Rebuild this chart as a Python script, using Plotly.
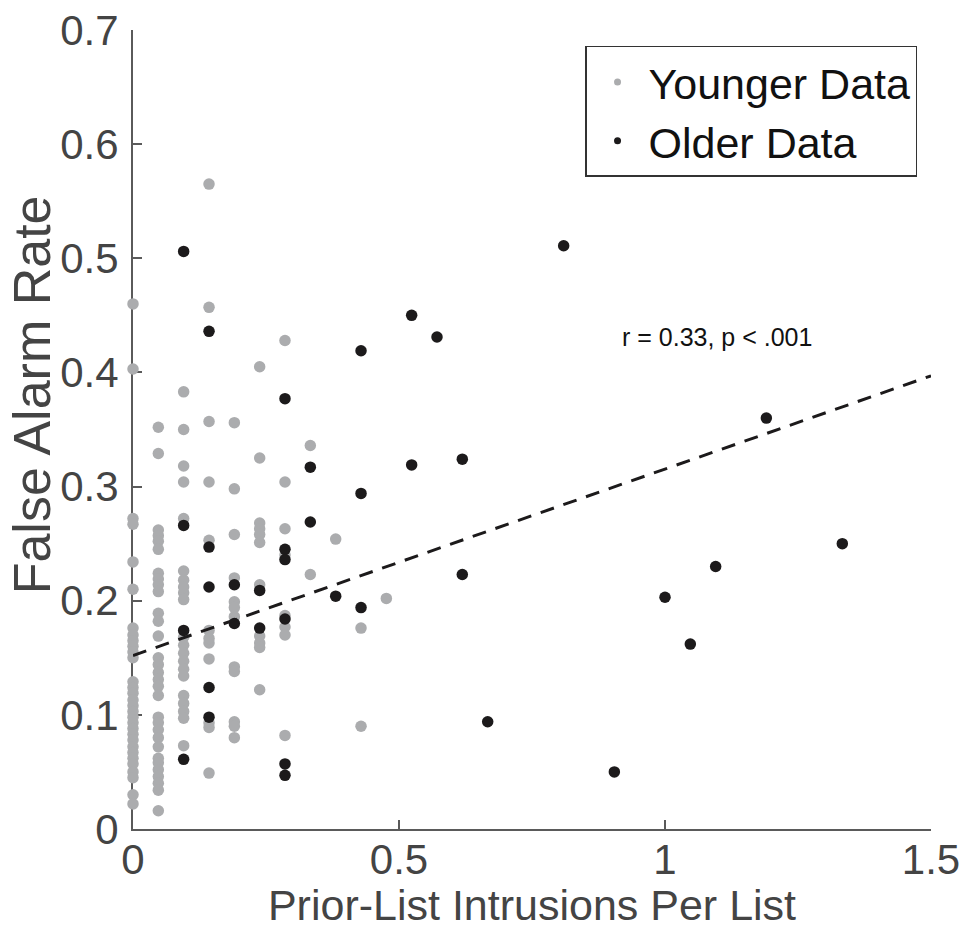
import plotly.graph_objects as go

# ---------------- data ----------------
young_x = (
    [0.0] * 31
    + [0.0476] * 31
    + [0.0952] * 21
    + [0.1429] * 12
    + [0.1905] * 12
    + [0.2381] * 11
    + [0.2857] * 8
    + [0.3333] * 2
    + [0.3810] * 1
    + [0.4286] * 2
    + [0.4762] * 1
)
young_y = (
    # x = 0
    [0.460, 0.403, 0.272, 0.267, 0.234, 0.210,
     0.176, 0.170, 0.165, 0.160, 0.155, 0.150,
     0.129, 0.124, 0.119, 0.113, 0.108, 0.103, 0.098, 0.093, 0.088, 0.083,
     0.078, 0.072, 0.067, 0.062, 0.057, 0.050, 0.045, 0.030, 0.022]
    # x = 1/21
    + [0.352, 0.329, 0.262, 0.257, 0.252, 0.245, 0.224, 0.219, 0.214, 0.208,
       0.189, 0.182, 0.169, 0.150, 0.144, 0.137, 0.131, 0.125, 0.117,
       0.098, 0.093, 0.087, 0.080, 0.072, 0.062, 0.058, 0.052, 0.046, 0.040,
       0.034, 0.016]
    # x = 2/21
    + [0.383, 0.350, 0.318, 0.304, 0.272, 0.218, 0.207, 0.201,
       0.168, 0.161, 0.154, 0.147, 0.140, 0.134,
       0.117, 0.110, 0.103, 0.097, 0.073, 0.226, 0.212]
    # x = 3/21
    + [0.565, 0.457, 0.357, 0.304, 0.253, 0.174, 0.163, 0.149,
       0.093, 0.089, 0.049, 0.167]
    # x = 4/21
    + [0.356, 0.298, 0.258, 0.220, 0.199, 0.186, 0.142, 0.138,
       0.094, 0.090, 0.080, 0.194]
    # x = 5/21
    + [0.405, 0.325, 0.268, 0.263, 0.258, 0.251, 0.169, 0.163, 0.159,
       0.122, 0.214]
    # x = 6/21
    + [0.428, 0.304, 0.263, 0.177, 0.170, 0.082, 0.240, 0.187]
    # x = 7/21
    + [0.336, 0.223]
    # x = 8/21
    + [0.254]
    # x = 9/21
    + [0.176, 0.090]
    # x = 10/21
    + [0.202]
)

old_x = (
    [0.0952] * 4 + [0.1429] * 5 + [0.1905] * 2 + [0.2381] * 2 + [0.2857] * 6
    + [0.3333] * 2 + [0.3810] + [0.4286] * 3 + [0.5238] * 2 + [0.5714]
    + [0.6190] * 2 + [0.6667] + [0.8095] + [0.9048] + [1.0] + [1.0476]
    + [1.0952] + [1.1905] + [1.3333]
)
old_y = (
    [0.506, 0.266, 0.174, 0.061]
    + [0.436, 0.247, 0.212, 0.124, 0.098]
    + [0.214, 0.180]
    + [0.209, 0.176]
    + [0.377, 0.245, 0.236, 0.184, 0.057, 0.047]
    + [0.317, 0.269]
    + [0.204]
    + [0.419, 0.294, 0.194]
    + [0.450, 0.319]
    + [0.431]
    + [0.324, 0.223]
    + [0.094]
    + [0.511]
    + [0.050]
    + [0.203]
    + [0.162]
    + [0.230]
    + [0.360]
    + [0.250]
)

fit_x = [0.0, 1.5]
fit_y = [0.152, 0.397]

x_ticks = [0, 0.5, 1, 1.5]
x_ticklabels = ["0", "0.5", "1", "1.5"]
y_ticks = [0, 0.1, 0.2, 0.3, 0.4, 0.5, 0.6, 0.7]
y_ticklabels = ["0", "0.1", "0.2", "0.3", "0.4", "0.5", "0.6", "0.7"]

GRAY = "#abacae"
BLACK = "#1c1a1b"
AXIS = "#5a5a5a"
TEXT = "#444444"
FONT = "Liberation Sans, Arial, Helvetica, sans-serif"

fig = go.Figure()

fig.add_trace(go.Scatter(
    x=young_x, y=young_y, mode="markers", showlegend=False,
    marker=dict(color=GRAY, size=11.5, line=dict(width=0)),
    cliponaxis=False, hoverinfo="skip",
))
fig.add_trace(go.Scatter(
    x=old_x, y=old_y, mode="markers", showlegend=False,
    marker=dict(color=BLACK, size=11.5, line=dict(width=0)),
    cliponaxis=False, hoverinfo="skip",
))
fig.add_trace(go.Scatter(
    x=fit_x, y=fit_y, mode="lines", showlegend=False,
    line=dict(color=BLACK, width=3, dash="14px,10px"),
    hoverinfo="skip",
))
# legend entries (smaller symbols, as in the reference legend)
fig.add_trace(go.Scatter(
    x=[None], y=[None], mode="markers", name="Younger Data",
    marker=dict(color=GRAY, size=7),
))
fig.add_trace(go.Scatter(
    x=[None], y=[None], mode="markers", name="Older Data",
    marker=dict(color=BLACK, size=7),
))

fig.add_annotation(
    x=1.098, y=0.431, xref="x", yref="y", text="r = 0.33, p < .001",
    showarrow=False, font=dict(family=FONT, size=25, color="#111111"),
)
# y-axis title, placed as in the reference (slightly above the axis centre)
fig.add_annotation(
    x=-0.1266, y=0.544, xref="paper", yref="paper", text="False Alarm Rate",
    textangle=-90, showarrow=False, xanchor="center", yanchor="middle",
    font=dict(family=FONT, size=52, color=TEXT),
)

axis_common = dict(
    showgrid=False, zeroline=False, showline=True, linecolor=AXIS,
    linewidth=2, ticks="inside", ticklen=9, tickwidth=2, tickcolor=AXIS,
    tickfont=dict(family=FONT, size=42, color=TEXT), layer="below traces",
    mirror=False, automargin=False,
)

fig.update_layout(
    width=967, height=929,
    margin=dict(l=133, r=36, t=30, b=100),
    paper_bgcolor="white", plot_bgcolor="white",
    font=dict(family=FONT, color=TEXT),
    xaxis=dict(range=[0, 1.5], tickvals=x_ticks, ticktext=x_ticklabels,
               title=dict(text="Prior-List Intrusions Per List", standoff=0,
                          font=dict(family=FONT, size=43, color=TEXT)),
               ticklabelstandoff=-7, **axis_common),
    yaxis=dict(range=[0, 0.7], tickvals=y_ticks, ticktext=y_ticklabels,
               ticklabelstandoff=4, **axis_common),
    legend=dict(
        x=0.9825, y=0.98, xanchor="right", yanchor="top",
        bgcolor="white", bordercolor="#333333", borderwidth=1.5,
        font=dict(family=FONT, size=43, color="#111111"),
        itemwidth=52, tracegroupgap=0,
    ),
)

fig.write_html("out.html")
